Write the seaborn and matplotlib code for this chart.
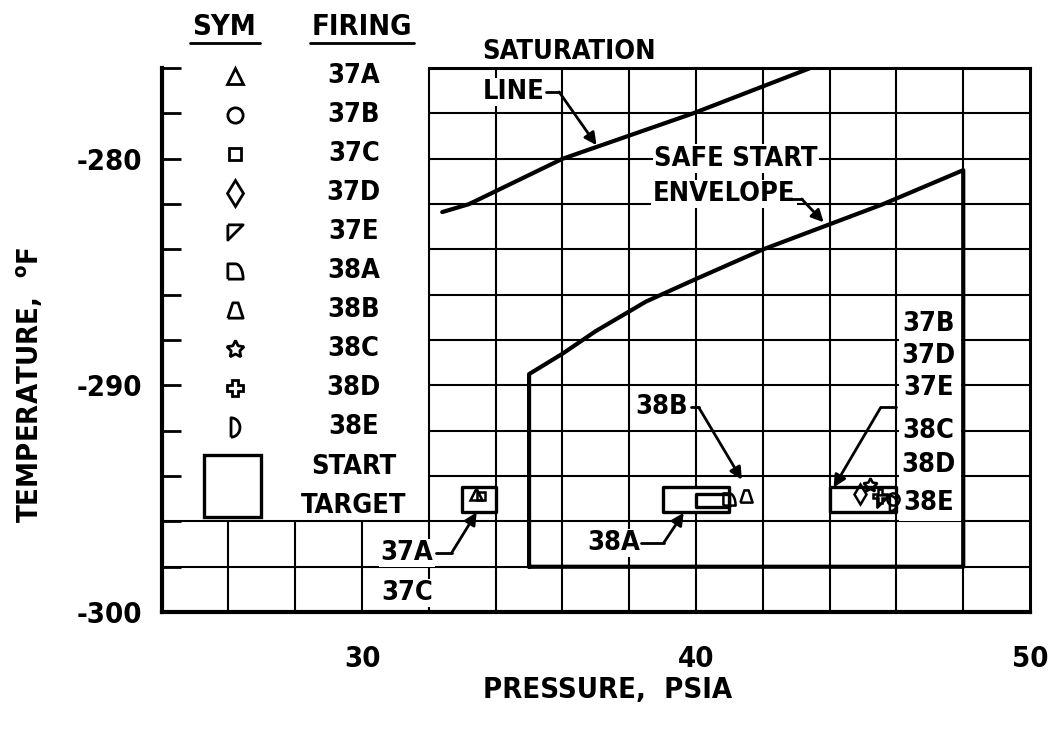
import numpy as np
import matplotlib
matplotlib.use('Agg')
import matplotlib.pyplot as plt
from matplotlib.patches import Rectangle
import seaborn as sns

# ---- data ----
sat_pressure = [32.4, 33.2, 36.0, 39.9, 43.5]
sat_temp = [-282.35, -282.0, -280.0, -278.0, -275.95]

env_pressure = [35.0, 35.0, 36.0, 37.0, 38.5, 40.0, 42.0, 45.6, 48.0, 48.0, 35.0]
env_temp = [-298.0, -289.5, -288.6, -287.6, -286.3, -285.3, -284.0, -282.0, -280.5, -298.0, -298.0]

firings = ['37A', '37B', '37C', '37D', '37E', '38A', '38B', '38C', '38D', '38E']
pressure = [33.4, 45.9, 33.55, 44.9, 45.6, 41.0, 41.5, 45.2, 45.5, 45.9]
temperature = [-294.8, -295.0, -294.9, -294.8, -295.1, -295.0, -294.9, -294.4, -294.9, -295.2]

# start target boxes: x0, x1, y0, y1
tgt_x0 = [33.0, 39.0, 40.0, 44.0]
tgt_x1 = [34.0, 41.0, 41.0, 46.0]
tgt_y0 = [-295.6, -295.6, -295.35, -295.6]
tgt_y1 = [-294.5, -294.5, -294.8, -294.5]

# ---- marker shapes ----
t = np.linspace(0, np.pi / 2, 12)
quarter = [(-1, -1), (-1, 1), (0, 1)] + [(np.sin(a), np.cos(a) * 2 - 1) for a in t] + [(-1, -1)]
t2 = np.linspace(-np.pi / 2, np.pi / 2, 16)
dshape = [(-0.6, -1.3)] + [(-0.6 + 1.2 * np.cos(a), 1.3 * np.sin(a)) for a in t2] + [(-0.6, -1.3)]
markers = ['^', 'o', 's', 'd', [(-1, 1), (1, 1), (-1, -1), (-1, 1)], quarter,
           [(-1, -1), (1, -1), (0.35, 1), (-0.35, 1), (-1, -1)], (5, 1, 0), 'P', dshape]
msizes = [11, 11, 8, 13, 11, 11, 11, 13, 12, 14]

sns.set_theme(style='white')
plt.rcParams['font.family'] = ['DejaVu Sans']
plt.rcParams['font.stretch'] = 'condensed'
plt.rcParams['font.weight'] = 'bold'
plt.rcParams['axes.labelweight'] = 'bold'
plt.rcParams['mathtext.default'] = 'regular'
for k in ['text.color', 'axes.labelcolor', 'xtick.color', 'ytick.color']:
    plt.rcParams[k] = 'black'
FS = 21   # ticks / axis titles
FT = 19.5   # labels inside the chart

fig = plt.figure(figsize=(10.5, 7.33), dpi=100)
ax = fig.add_axes([0.154, 0.165, 0.827, 0.742])
ax.set_xlim(24, 50)
ax.set_ylim(-300, -276)

# grid (left-top block left blank for the symbol table)
for gx in np.arange(26, 50, 2):
    top = -296 if gx < 32 else -276
    ax.plot([gx, gx], [-300, top], color='black', lw=1.5, zorder=1)
for gy in np.arange(-298, -276, 2):
    left = 24 if gy <= -296 else 32
    ax.plot([left, 50], [gy, gy], color='black', lw=1.5, zorder=1)

for s in ['left', 'bottom']:
    ax.spines[s].set_linewidth(3)
for s in ['top', 'right']:
    ax.spines[s].set_linewidth(2.2)
ax.spines['top'].set_bounds(32, 50)
for s in ax.spines.values():
    s.set_color('black')

ax.set_yticks([-300, -290, -280])
ax.set_yticks(np.arange(-300, -275, 2), minor=True)
ax.set_xticks([30, 40, 50])
ax.tick_params(axis='y', which='both', direction='in', length=14, width=2, left=True, pad=14,
               labelsize=FS)
ax.tick_params(axis='x', which='both', length=0, pad=24, labelsize=FS)
ax.set_yticklabels(['-300', '-290', '-280'])

# lines
sns.lineplot(x=sat_pressure, y=sat_temp, sort=False, estimator=None, color='black', lw=3, ax=ax, zorder=4)
sns.lineplot(x=env_pressure, y=env_temp, sort=False, estimator=None, color='black', lw=3, ax=ax, zorder=4)

for x0, x1, y0, y1 in zip(tgt_x0, tgt_x1, tgt_y0, tgt_y1):
    ax.add_patch(Rectangle((x0, y0), x1 - x0, y1 - y0, fill=True, fc='white', ec='black',
                           lw=2.4, joinstyle='round', zorder=5))

for p, tt, m, ms in zip(pressure, temperature, markers, msizes):
    ax.plot([p], [tt], marker=m, ms=ms * 0.8, mfc='none', mec='black', mew=1.8, ls='none', zorder=6)

# symbol table
ax.text(25.86, -274.2, 'SYM', ha='center', va='center', fontsize=FS, clip_on=False)
ax.text(29.99, -274.2, 'FIRING', ha='center', va='center', fontsize=FS, clip_on=False)
ax.plot([24.85, 26.95], [-274.9, -274.9], color='black', lw=2, clip_on=False)
ax.plot([28.45, 31.55], [-274.9, -274.9], color='black', lw=2, clip_on=False)
for i, (f, m, ms) in enumerate(zip(firings, markers, msizes)):
    yy = -276.35 - 1.72 * i
    ax.plot([26.2], [yy], marker=m, ms=ms, mfc='none', mec='black', mew=2, ls='none', clip_on=False)
    ax.text(29.75, yy, f, ha='center', va='center', fontsize=FT)
ax.add_patch(Rectangle((25.26, -295.8), 1.7, 2.75, fill=False, ec='black', lw=2.4))
ax.text(29.75, -293.6, 'START', ha='center', va='center', fontsize=FT)
ax.text(29.75, -295.3, 'TARGET', ha='center', va='center', fontsize=FT)

# annotations
box = dict(fc='white', ec='none', pad=1)
arr = dict(arrowstyle='-|>', lw=2, color='black', mutation_scale=18, shrinkA=0, shrinkB=0)
ax.text(36.2, -275.3, 'SATURATION', ha='center', va='center', fontsize=FT, bbox=box, clip_on=False, zorder=7)
ax.text(33.6, -277.05, 'LINE', ha='left', va='center', fontsize=FT, bbox=box, zorder=7)
ax.plot([35.5, 35.9], [-277.05, -277.05], color='black', lw=2, zorder=7)
ax.annotate('', xy=(37.02, -279.4), xytext=(35.9, -277.05), arrowprops=arr, zorder=7)

ax.text(38.75, -280.0, 'SAFE START', ha='left', va='center', fontsize=FT, bbox=box, zorder=7)
ax.text(38.7, -281.55, 'ENVELOPE', ha='left', va='center', fontsize=FT, bbox=box, zorder=7)
ax.plot([42.77, 43.16], [-281.77, -281.77], color='black', lw=2, zorder=7)
ax.annotate('', xy=(43.82, -282.8), xytext=(43.16, -281.77), arrowprops=arr, zorder=7)

ax.text(31.34, -297.4, '37A', ha='center', va='center', fontsize=FT, bbox=box, zorder=7)
ax.text(31.34, -299.16, '37C', ha='center', va='center', fontsize=FT, bbox=box, zorder=7)
ax.plot([32.2, 32.68], [-297.39, -297.39], color='black', lw=2, zorder=7)
ax.annotate('', xy=(33.43, -295.6), xytext=(32.68, -297.39), arrowprops=arr, zorder=7)

ax.text(38.97, -290.93, '38B', ha='center', va='center', fontsize=FT, bbox=box, zorder=7)
ax.plot([39.84, 40.08], [-290.97, -290.97], color='black', lw=2, zorder=7)
ax.annotate('', xy=(41.37, -294.16), xytext=(40.08, -290.97), arrowprops=arr, zorder=7)

ax.text(37.53, -296.95, '38A', ha='center', va='center', fontsize=FT, bbox=box, zorder=7)
ax.plot([38.34, 39.03], [-296.95, -296.95], color='black', lw=2, zorder=7)
ax.annotate('', xy=(39.63, -295.62), xytext=(39.03, -296.95), arrowprops=arr, zorder=7)

ax.add_patch(Rectangle((46.08, -296.0), 1.84, 9.4, fc='white', ec='none', zorder=2))
right_labels = ['37B', '37D', '37E', '38C', '38D', '38E']
right_y = [-287.3, -288.7, -290.1, -292.0, -293.5, -295.2]
for lab, yy in zip(right_labels, right_y):
    ax.text(46.95, yy, lab, ha='center', va='center', fontsize=FT, zorder=7)
ax.plot([45.53, 45.98], [-290.97, -290.97], color='black', lw=2, zorder=7)
ax.annotate('', xy=(44.12, -294.5), xytext=(45.53, -290.97), arrowprops=arr, zorder=7)

ax.set_xlabel('PRESSURE,  PSIA', fontsize=FS, va='center')
ax.xaxis.set_label_coords(0.513, -0.143)
ax.set_ylabel('TEMPERATURE,  $^{o}$F', fontsize=FS, va='center')
ax.yaxis.set_label_coords(-0.152, 0.417)

fig.savefig('out.png', dpi=100)
